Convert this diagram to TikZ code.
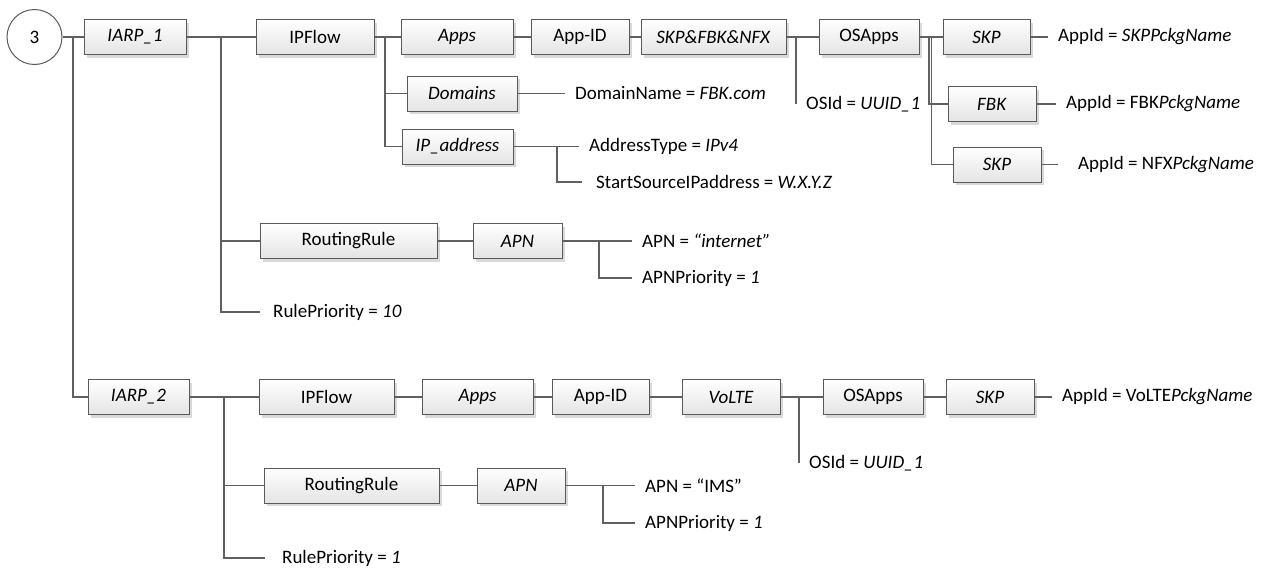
\documentclass[tikz,border=0pt]{standalone}
\usepackage{fontspec}
\setmainfont{Carlito}
\usetikzlibrary{shadows}

\definecolor{boxline}{HTML}{5A5A5A}
\definecolor{wiregray}{HTML}{606060}
\definecolor{boxshade}{HTML}{E4E4E4}
\definecolor{shadowgray}{HTML}{D9D9D9}

\tikzset{
  box/.style={draw=boxline, line width=1pt, top color=white, bottom color=boxshade,
    minimum height=35pt, inner sep=0pt, font=\fontsize{19}{23}\selectfont,
    drop shadow={shadow xshift=3pt, shadow yshift=-3pt, fill=shadowgray, opacity=1}},
  attr/.style={anchor=west, inner xsep=10pt, inner ysep=0pt, font=\fontsize{19}{23}\selectfont},
  link/.style={draw=wiregray, line width=1.2pt}
}

\begin{document}
\begin{tikzpicture}[x=1pt,y=-1pt]
\useasboundingbox (0,0) rectangle (1274,568);

\node[circle, draw=boxline, line width=1pt, fill=white, minimum size=55pt, inner sep=0pt,
  font=\fontsize{19}{23}\selectfont] (root) at (34.5,37) {3};

% first rule
\node[box, minimum width=102pt] (iarpA) at (135,37) {\textit{IARP\_1}};
\node[box, minimum width=118pt] (flowA) at (315,37) {IPFlow};
\node[box, minimum width=112pt] (appsA) at (457,37) {\textit{Apps}};
\node[box, minimum width=98pt] (appidA) at (580,37) {App-ID};
\node[box, minimum width=145pt] (skpfbk) at (713.5,37) {\textit{SKP\&FBK\&NFX}};
\node[box, minimum width=100pt] (osappsA) at (869,37) {OSApps};
\node[box, minimum width=87pt] (skpA) at (986.5,37) {\textit{SKP}};
\node[box, minimum width=110pt] (domains) at (462,93.5) {\textit{Domains}};
\node[box, minimum width=111pt] (ipaddr) at (457.5,146.5) {\textit{IP\_address}};
\node[box, minimum width=88pt] (fbk) at (992,104) {\textit{FBK}};
\node[box, minimum width=88pt] (skpB) at (997,164.5) {\textit{SKP}};
\node[box, minimum width=177pt] (ruleA) at (348.5,241) {RoutingRule};
\node[box, minimum width=89pt] (apnA) at (517.5,241) {\textit{APN}};

\node[attr] (domname) at (565,93.5) {DomainName = \textit{FBK.com}};
\node[attr] (addrtype) at (579,146.5) {AddressType = \textit{IPv4}};
\node[attr, inner xsep=14pt] (startsrc) at (582,182) {StartSourceIPaddress = \textit{W.X.Y.Z}};
\node[attr] (osidA) at (796,104) {OSId = \textit{UUID\_1}};
\node[attr] (skpname) at (1048,37) {AppId = \textit{SKPPckgName}};
\node[attr] (fbkname) at (1056,104) {AppId = FBK\textit{PckgName}};
\node[attr, inner xsep=20pt] (nfxname) at (1058,164.5) {AppId = NFX\textit{PckgName}};
\node[attr] (apnvalA) at (632,241) {APN = \textit{“internet”}};
\node[attr] (apnprioA) at (632,278) {APNPriority = \textit{1}};
\node[attr, inner xsep=13pt] (ruleprioA) at (260,312) {RulePriority = \textit{10}};

% second rule
\node[box, minimum width=101pt] (iarpB) at (138.5,397) {\textit{IARP\_2}};
\node[box, minimum width=135pt] (flowB) at (326.5,397) {IPFlow};
\node[box, minimum width=111pt] (appsB) at (477.5,397) {\textit{Apps}};
\node[box, minimum width=97pt] (appidB) at (600.5,397) {App-ID};
\node[box, minimum width=98pt] (volte) at (731,397) {\textit{VoLTE}};
\node[box, minimum width=100pt] (osappsB) at (873,397) {OSApps};
\node[box, minimum width=88pt] (skpC) at (990,397) {\textit{SKP}};
\node[box, minimum width=175pt] (ruleB) at (351.5,485.5) {RoutingRule};
\node[box, minimum width=88pt] (apnB) at (521,485.5) {\textit{APN}};

\node[attr] (osidB) at (799,463) {OSId = \textit{UUID\_1}};
\node[attr] (voltename) at (1052,397) {AppId = VoLTE\textit{PckgName}};
\node[attr] (apnvalB) at (635,485.5) {APN = “IMS”};
\node[attr] (apnprioB) at (635,523) {APNPriority = \textit{1}};
\node[attr, inner xsep=17pt] (ruleprioB) at (265,558) {RulePriority = \textit{1}};

% junctions
\coordinate (tA) at (73,37);
\coordinate (bA) at (221,37);
\coordinate (cA) at (385,37);
\coordinate (sA) at (796,37);
\coordinate (oA) at (929,37);
\coordinate (oB) at (931.5,37);
\coordinate (iA) at (557,146.5);
\coordinate (pA) at (599,241);
\coordinate (bB) at (224,397);
\coordinate (sB) at (799,397);
\coordinate (pB) at (603,485.5);

\begin{scope}[link]
\draw (root) -- (iarpA);
\draw (tA) |- (iarpB);
\draw (iarpA) -- (flowA);
\draw (bA) |- (ruleA.west);
\draw (bA) |- (ruleprioA.west);
\draw (flowA) -- (appsA) -- (appidA) -- (skpfbk) -- (osappsA) -- (skpA) -- (skpname.west);
\draw (cA) |- (domains.west);
\draw (cA) |- (ipaddr.west);
\draw (domains) -- (domname.west);
\draw (ipaddr) -- (addrtype.west);
\draw (iA) |- (startsrc.west);
\draw (sA) -- (sA |- osidA.west);
\draw (oA) |- (fbk.west);
\draw (oB) |- (skpB.west);
\draw (fbk) -- (fbkname.west);
\draw (skpB) -- (nfxname.west);
\draw (ruleA) -- (apnA) -- (apnvalA.west);
\draw (pA) |- (apnprioA.west);

\draw (iarpB) -- (flowB) -- (appsB) -- (appidB) -- (volte) -- (osappsB) -- (skpC) -- (voltename.west);
\draw (sB) -- (sB |- osidB.west);
\draw (bB) |- (ruleB.west);
\draw (bB) |- (ruleprioB.west);
\draw (ruleB) -- (apnB) -- (apnvalB.west);
\draw (pB) |- (apnprioB.west);
\end{scope}
\end{tikzpicture}
\end{document}
